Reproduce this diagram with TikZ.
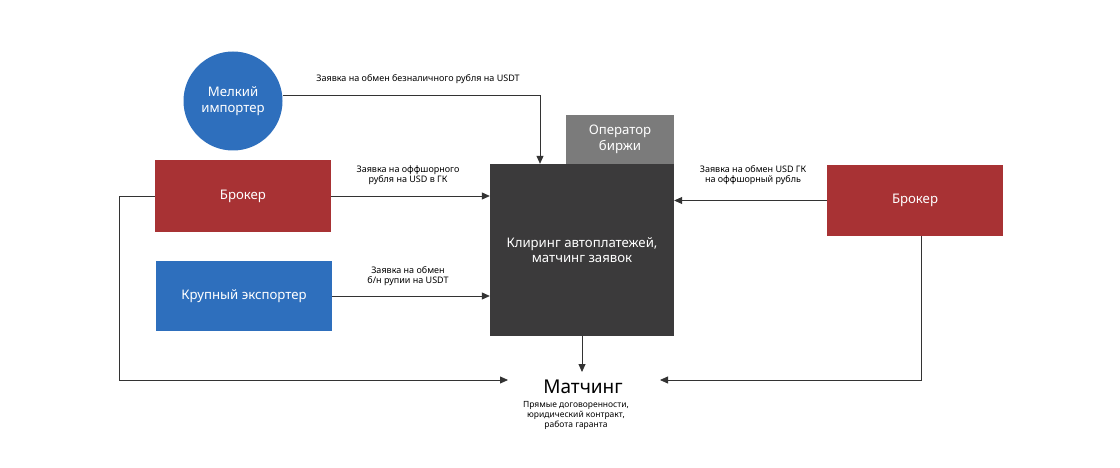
\documentclass[tikz,border=0pt]{standalone}
\usepackage{fontspec}
\setmainfont{Noto Sans}
\usetikzlibrary{arrows.meta}
\definecolor{cred}{HTML}{A83234}
\definecolor{cblue}{HTML}{2E6FBD}
\definecolor{cdark}{HTML}{3B3A3B}
\definecolor{cgray}{HTML}{7B7B7B}
\definecolor{cline}{HTML}{333333}
\begin{document}
\begin{tikzpicture}[x=1pt,y=-1pt,
  box/.style={draw=none,inner sep=0pt,text=white,font=\fontsize{13.2}{15.5}\selectfont,align=center},
  lbl/.style={font=\fontsize{9}{10.5}\selectfont,align=center,inner sep=0pt,text=black},
  conn/.style={draw=cline,line width=0.8pt,-{Triangle[width=7pt,length=8pt]}},
  plain/.style={draw=cline,line width=0.8pt}]
\useasboundingbox (0,0) rectangle (1120,468);
\fill[white] (0,0) rectangle (1120,468);
% nodes
\node[box,circle,fill=cblue,minimum size=99pt] (imp) at (233,101) {Мелкий\\импортер};
\node[box,fill=cred,minimum width=176pt,minimum height=71pt] (brL) at (243,196) {Брокер};
\node[box,fill=cblue,minimum width=176pt,minimum height=70pt] (exp) at (244,296) {Крупный экспортер};
\node[box,fill=cgray,minimum width=108pt,minimum height=49pt] (op) at (620,139.5) {Оператор\\биржи};
\node[box,fill=cdark,minimum width=184pt,minimum height=172pt] (clr) at (582,250) {Клиринг автоплатежей,\\матчинг заявок};
\node[box,fill=cred,minimum width=176pt,minimum height=71pt] (brR) at (915,200.5) {Брокер};
\node[inner sep=0pt,font=\fontsize{19}{21}\selectfont] (mat) at (583,387) {Матчинг};
\node[lbl,font=\fontsize{8.5}{10}\selectfont] (matsub) at (576,415) {Прямые договоренности,\\юридический контракт,\\работа гаранта};
% helper coordinates
\coordinate (c1) at (540,95);
\coordinate (c2) at (119,196);
\coordinate (c3) at (119,380);
\coordinate (mL) at (508,380);
\coordinate (c4) at (921,380);
\coordinate (mR) at (660,380);
\coordinate (mT) at (582,372);
% connectors
\draw[conn] (imp.east |- c1) -- (c1) -- (c1 |- clr.north);
\draw[conn] (brL.east) -- (brL.east -| clr.west);
\draw[conn] (exp.east) -- (exp.east -| clr.west);
\draw[conn] (brR.west) -- (brR.west -| clr.east);
\draw[conn] (clr.south) -- (clr.south |- mT);
\draw[conn] (brL.west) -- (c2) -- (c3) -- (mL);
\draw[conn] (brR.south -| c4) -- (c4) -- (mR);
% labels
\node[lbl] (l1) at (418,79) {Заявка на обмен безналичного рубля на USDT};
\node[lbl] (l2) at (408,175) {Заявка на оффшорного\\рубля на USD в ГК};
\node[lbl] (l3) at (408,276) {Заявка на обмен\\б/н рупии на USDT};
\node[lbl] (l4) at (753,175) {Заявка на обмен USD ГК\\на оффшорный рубль};
\end{tikzpicture}
\end{document}
